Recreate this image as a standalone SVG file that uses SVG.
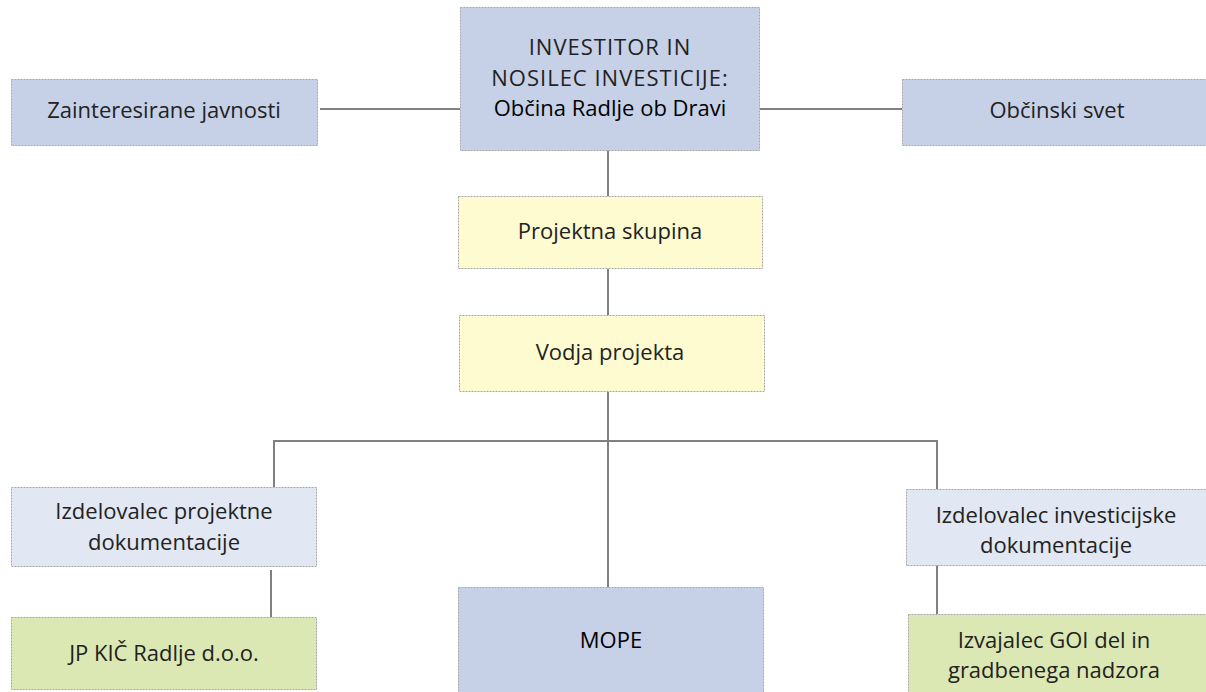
<svg xmlns="http://www.w3.org/2000/svg" width="1206" height="692" viewBox="0 0 1206 692">
<style>
.box{stroke:#a6a6a6;stroke-width:1;stroke-dasharray:2 1}
.dark{fill:#c6d1e8}
.light{fill:#e1e7f3}
.yel{fill:#fefbd0}
.grn{fill:#dbe8b4}
.t{font-family:"Open Sans","DejaVu Sans",sans-serif;font-size:22px;fill:#222;text-anchor:middle}
.cap{letter-spacing:1px}
.b{fill:#000;font-weight:500}
.c{stroke:#808080;stroke-width:2;fill:none}
</style>
<rect width="1206" height="692" fill="#fff"/>
<g id="connectors">
<line class="c" x1="320" y1="109" x2="460" y2="109"/>
<line class="c" x1="760" y1="109" x2="902" y2="109"/>
<line class="c" x1="608" y1="150" x2="608" y2="196"/>
<line class="c" x1="608" y1="269" x2="608" y2="315"/>
<line class="c" x1="608" y1="392" x2="608" y2="587"/>
<polyline class="c" points="274,487 274,441 937,441 937,489"/>
<line class="c" x1="271" y1="570" x2="271" y2="617"/>
<line class="c" x1="937" y1="565" x2="937" y2="614"/>
</g>
<g id="n-zainteresirane">
<rect class="box dark" x="11.5" y="79.5" width="306" height="66"/>
<text class="t" x="164" y="118">Zainteresirane javnosti</text>
</g>
<g id="n-investitor">
<rect class="box dark" x="460.5" y="7.5" width="299" height="143"/>
<text class="t cap" x="610" y="55">INVESTITOR IN</text>
<text class="t cap" x="610" y="86">NOSILEC INVESTICIJE:</text>
<text class="t b" x="610" y="116">Občina Radlje ob Dravi</text>
</g>
<g id="n-obcinski">
<rect class="box dark" x="902.5" y="79.5" width="304" height="66"/>
<text class="t" x="1057" y="118">Občinski svet</text>
</g>
<g id="n-skupina">
<rect class="box yel" x="458.5" y="196.5" width="304" height="72"/>
<text class="t" x="610" y="239">Projektna skupina</text>
</g>
<g id="n-vodja">
<rect class="box yel" x="459.5" y="315.5" width="305" height="76"/>
<text class="t" x="610" y="360">Vodja projekta</text>
</g>
<g id="n-izd-proj">
<rect class="box light" x="11.5" y="487.5" width="305" height="79"/>
<text class="t" x="164" y="519">Izdelovalec projektne</text>
<text class="t" x="164" y="550">dokumentacije</text>
</g>
<g id="n-jpkic">
<rect class="box grn" x="11.5" y="617.5" width="305" height="72"/>
<text class="t" x="164" y="661">JP KIČ Radlje d.o.o.</text>
</g>
<g id="n-mope">
<rect class="box dark" x="458.5" y="587.5" width="305" height="110"/>
<text class="t b" x="611" y="648">MOPE</text>
</g>
<g id="n-izd-inv">
<rect class="box light" x="906.5" y="489.5" width="304" height="76"/>
<text class="t" x="1056" y="523">Izdelovalec investicijske</text>
<text class="t" x="1056" y="553">dokumentacije</text>
</g>
<g id="n-izvajalec">
<rect class="box grn" x="908.5" y="614.5" width="304" height="84"/>
<text class="t" x="1054" y="648">Izvajalec GOI del in</text>
<text class="t" x="1054" y="678">gradbenega nadzora</text>
</g>
</svg>
